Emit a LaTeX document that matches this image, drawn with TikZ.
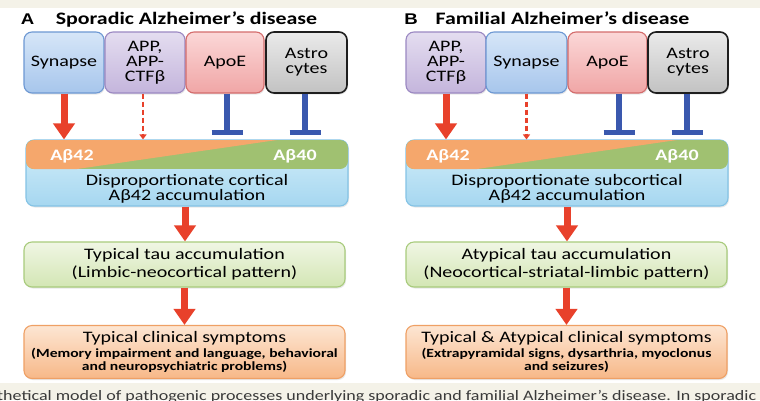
\documentclass[tikz,border=0pt]{standalone}
\usepackage{fontspec}
\setmainfont{Carlito}[FakeStretch=1.25]
\newfontfamily\labfont{Liberation Sans}[FakeStretch=1.2]
\usetikzlibrary{arrows.meta,shadows}
\definecolor{bgbeige}{HTML}{F4F2E8}
\definecolor{synT}{HTML}{D6E6F8}\definecolor{synB}{HTML}{A7C6EC}\definecolor{synD}{HTML}{6D98D3}
\definecolor{appT}{HTML}{E4DDF0}\definecolor{appB}{HTML}{C4B5DC}\definecolor{appD}{HTML}{9B88C2}
\definecolor{apoT}{HTML}{FBD7D7}\definecolor{apoB}{HTML}{F0A6A6}\definecolor{apoD}{HTML}{D46C6C}
\definecolor{astT}{HTML}{EAEAEA}\definecolor{astB}{HTML}{C2C2C2}\definecolor{astD}{HTML}{1E1E1E}
\definecolor{bluT}{HTML}{D3EEFA}\definecolor{bluB}{HTML}{A6D7F0}\definecolor{bluD}{HTML}{84C3E5}
\definecolor{grnT}{HTML}{F0F6E4}\definecolor{grnB}{HTML}{D3E6B4}\definecolor{grnD}{HTML}{A8CB7C}
\definecolor{orgT}{HTML}{FDE6D3}\definecolor{orgB}{HTML}{F7B888}\definecolor{orgD}{HTML}{EFA065}
\definecolor{bandO}{HTML}{F5A76C}\definecolor{bandG}{HTML}{A0C171}
\definecolor{arrRed}{HTML}{E8412B}\definecolor{tBlue}{HTML}{3A58AE}
\definecolor{capText}{HTML}{3A3A3A}
\begin{document}
\begin{tikzpicture}[x=1pt,y=-1pt,
  box/.style={rounded corners=8pt, line width=1.1pt, align=center, inner sep=0pt,
    drop shadow={shadow xshift=1pt, shadow yshift=-1.5pt, opacity=0.18}},
  topbox/.style={box, minimum height=61pt, font=\fontsize{16}{15}\selectfont},
  synbox/.style={topbox, draw=synD, top color=synT, bottom color=synB},
  appbox/.style={topbox, draw=appD, top color=appT, bottom color=appB},
  apobox/.style={topbox, draw=apoD, top color=apoT, bottom color=apoB},
  astbox/.style={topbox, draw=astD, line width=1.6pt, top color=astT, bottom color=astB},
  bandbox/.style={box, draw=bluD, top color=bluT, bottom color=bluB, minimum width=322pt, minimum height=66pt},
  tauBox/.style={box, draw=grnD, top color=grnT, bottom color=grnB, minimum width=321pt, minimum height=45pt, font=\fontsize{16}{18}\selectfont},
  symBox/.style={box, draw=orgD, top color=orgT, bottom color=orgB, minimum width=321pt, minimum height=53pt, font=\bfseries\fontsize{12.5}{13.5}\selectfont},
  redarr/.style={draw=arrRed, line width=7pt, -{Triangle[width=21pt,length=16pt]}, color=arrRed},
  dasharr/.style={draw=arrRed, line width=2.2pt, dash pattern=on 5pt off 3pt, -{Triangle[width=7pt,length=5pt]}, color=arrRed},
  tstem/.style={draw=tBlue, line width=6pt},
  tbar/.style={draw=tBlue, line width=5pt},
  abtxt/.style={text=white, font=\bfseries\fontsize{16}{16}\selectfont},
  titletxt/.style={anchor=base, font=\bfseries\fontsize{17.5}{18}\selectfont},
  panellab/.style={anchor=base, font=\labfont\bfseries\fontsize{15.5}{15}\selectfont},
  desctxt/.style={align=center, font=\fontsize{16}{13.5}\selectfont}
]
\useasboundingbox (0,0) rectangle (760,400);
\clip (0,0) rectangle (760,400);
\fill[white] (0,0) rectangle (760,400);
\fill[bgbeige] (0,0) rectangle (760,8);
\fill[bgbeige] (0,383) rectangle (760,400);
\node[anchor=base west, text=capText, font=\fontsize{14.4}{14}\selectfont, inner sep=0pt] (caption) at (-3,400)
  {thetical model of pathogenic processes underlying sporadic and familial Alzheimer’s disease. In sporadic};

% ---------- Panel A ----------
\node[panellab] (labA) at (27.5,24) {A};
\node[titletxt] (titleA) at (186.5,24) {Sporadic Alzheimer’s disease};
\node[synbox, minimum width=80pt] (synA) at (64,62.5) {Synapse};
\node[appbox, minimum width=80pt] (appA) at (145,62.5) {APP,\\APP-\\CTFβ};
\node[apobox, minimum width=78pt] (apoA) at (225,62.5) {ApoE};
\node[astbox, minimum width=81pt] (astA) at (306.5,62.5) {Astro\\cytes};

\node[bandbox] (bandA) at (187,173) {};
\begin{scope}
  \clip[rounded corners=8pt] (26,140) rectangle (348,169);
  \fill[bandG] (26,140) rectangle (348,169);
  \fill[bandO] (26,140) -- (277,140) -- (77,169) -- (26,169) -- cycle;
\end{scope}
\node[abtxt] (ab42A) at (72,156) {Aβ42};
\node[abtxt] (ab40A) at (295,156) {Aβ40};
\node[desctxt] (descA) at (187,189) {Disproportionate cortical\\Aβ42 accumulation};

\node[tauBox] (tauA) at (184.5,264.5) {Typical tau accumulation\\(Limbic-neocortical pattern)};
\node[symBox] (symA) at (184.5,352) {{\mdseries\fontsize{16}{16}\selectfont Typical clinical symptoms}\\[1.5pt](Memory impairment and language, behavioral\\and neuropsychiatric problems)};

\draw[redarr] (synA.south) -- (synA.south |- bandA.north);
\draw[dasharr] ([xshift=-2pt]appA.south) -- ([xshift=-2pt]appA.south |- bandA.north);
\coordinate (tA1) at ([xshift=2pt,yshift=-38.5pt]apoA.south);
\coordinate (tA2) at ([xshift=-1.5pt,yshift=-38.5pt]astA.south);
\draw[tstem] ([xshift=2pt]apoA.south) -- (tA1);
\draw[tbar] ([xshift=-15.5pt]tA1) -- ([xshift=15.5pt]tA1);
\draw[tstem] ([xshift=-1.5pt]astA.south) -- (tA2);
\draw[tbar] ([xshift=-15.5pt]tA2) -- ([xshift=15.5pt]tA2);
\draw[redarr] ([xshift=-2pt]bandA.south) -- ([xshift=-2pt]bandA.south |- tauA.north);
\draw[redarr] (tauA.south) -- (symA.north);

% ---------- Panel B ----------
\node[panellab] (labB) at (411,24) {B};
\node[titletxt] (titleB) at (562.5,24) {Familial Alzheimer’s disease};
\node[appbox, minimum width=80pt] (appBx) at (446,62.5) {APP,\\APP-\\CTFβ};
\node[synbox, minimum width=81pt] (synBx) at (526.5,62.5) {Synapse};
\node[apobox, minimum width=79pt] (apoBx) at (607.5,62.5) {ApoE};
\node[astbox, minimum width=80pt] (astBx) at (688,62.5) {Astro\\cytes};

\node[bandbox] (bandB) at (567,173) {};
\begin{scope}
  \clip[rounded corners=8pt] (406,140) rectangle (728,169);
  \fill[bandG] (406,140) rectangle (728,169);
  \fill[bandO] (406,140) -- (677,140) -- (477,169) -- (406,169) -- cycle;
\end{scope}
\node[abtxt] (ab42B) at (448,156) {Aβ42};
\node[abtxt] (ab40B) at (677,156) {Aβ40};
\node[desctxt] (descB) at (567,189) {Disproportionate subcortical\\Aβ42 accumulation};

\node[tauBox] (tauB) at (566.5,264.5) {Atypical tau accumulation\\(Neocortical-striatal-limbic pattern)};
\node[symBox] (symB) at (566.5,352) {{\mdseries\fontsize{16}{16}\selectfont Typical \& Atypical clinical symptoms}\\[1.5pt](Extrapyramidal signs, dysarthria, myoclonus\\and seizures)};

\draw[redarr] (appBx.south) -- (appBx.south |- bandB.north);
\draw[dasharr] (synBx.south) -- (synBx.south |- bandB.north);
\coordinate (tB1) at ([xshift=11.5pt,yshift=-38.5pt]apoBx.south);
\coordinate (tB2) at ([xshift=-1pt,yshift=-38.5pt]astBx.south);
\draw[tstem] ([xshift=11.5pt]apoBx.south) -- (tB1);
\draw[tbar] ([xshift=-15.5pt]tB1) -- ([xshift=15.5pt]tB1);
\draw[tstem] ([xshift=-1pt]astBx.south) -- (tB2);
\draw[tbar] ([xshift=-15.5pt]tB2) -- ([xshift=15.5pt]tB2);
\draw[redarr] (bandB.south) -- (bandB.south |- tauB.north);
\draw[redarr] (tauB.south) -- (symB.north);
\end{tikzpicture}
\end{document}
